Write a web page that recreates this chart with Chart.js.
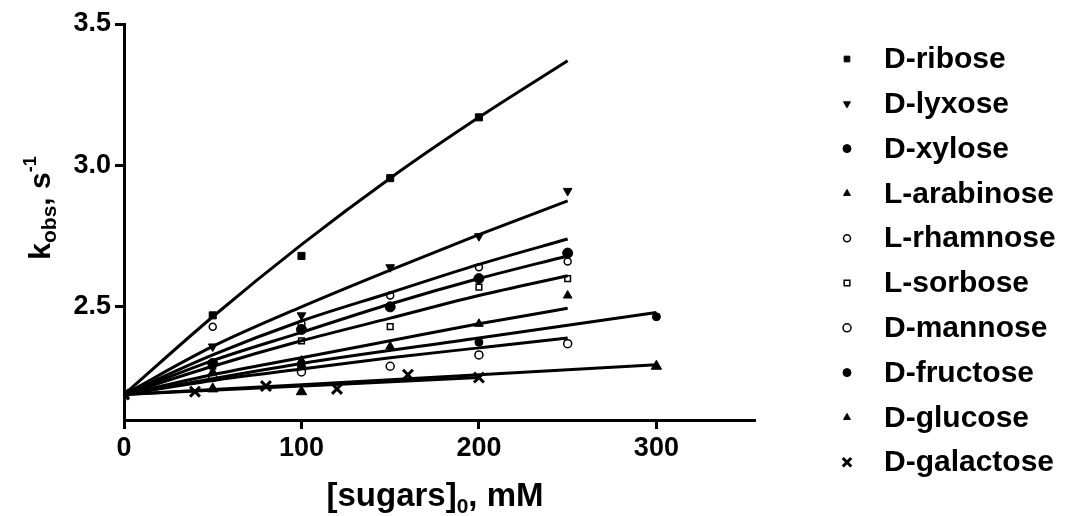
<!DOCTYPE html>
<html lang="en">
<head>
  <meta charset="UTF-8" />
  <title>kobs vs sugars</title>
  <script src="https://cdn.jsdelivr.net/npm/chart.js"></script>
  <style>
    body { margin: 0; background: #fff; }
    #wrap { width: 1069px; height: 516px; }
  </style>
</head>
<body>
  <div id="wrap"><canvas id="chart" width="1069" height="516"></canvas></div>

  <script>
    // tick labels
    const xTicks = [0, 100, 200, 300];
    const yTicks = [2.5, 3.0, 3.5];

    // measured points
    const sugars = ['D-ribose', 'D-lyxose', 'D-xylose', 'L-arabinose', 'L-rhamnose',
                    'L-sorbose', 'D-mannose', 'D-fructose', 'D-glucose', 'D-galactose'];
    const conc = [0, 50, 100, 150, 200, 250];

    const riboseX = [0, 50, 100, 150, 200];
    const riboseY = [2.19, 2.47, 2.68, 2.955, 3.17];
    const lyxoseY = [2.19, 2.36, 2.47, 2.64, 2.75, 2.91];
    const xyloseY = [2.19, 2.30, 2.42, 2.50, 2.60, 2.69];
    const arabinoseY = [2.19, 2.27, 2.31, 2.36, 2.44, 2.54];
    const rhamnoseY = [2.19, 2.43, 2.44, 2.54, 2.64, 2.66];
    const sorboseY = [2.19, 2.29, 2.38, 2.43, 2.57, 2.60];
    const mannoseY = [2.19, 2.25, 2.27, 2.29, 2.33, 2.37];
    const fructoseX = [0, 100, 200, 300];
    const fructoseY = [2.19, 2.29, 2.375, 2.465];
    const glucoseX = [0, 50, 100, 300];
    const glucoseY = [2.19, 2.21, 2.20, 2.29];
    const galactoseX = [0, 40, 80, 120, 160, 200];
    const galactoseY = [2.19, 2.20, 2.22, 2.21, 2.26, 2.25];

    // fitted curves
    const fitX = [0, 50, 100, 150, 200, 250];
    const riboseFit = [2.19, 2.465, 2.72, 2.955, 3.17, 3.37];
    const lyxoseFit = [2.19, 2.36, 2.50, 2.63, 2.755, 2.875];
    const xyloseFit = [2.19, 2.31, 2.41, 2.51, 2.60, 2.68];
    const rhamnoseFit = [2.19, 2.33, 2.45, 2.55, 2.65, 2.74];
    const sorboseFit = [2.19, 2.29, 2.38, 2.46, 2.54, 2.61];
    const arabinoseFit = [2.19, 2.26, 2.32, 2.38, 2.44, 2.495];
    const mannoseFit = [2.19, 2.24, 2.28, 2.32, 2.355, 2.39];
    const fitX300 = [0, 100, 200, 300];
    const fructoseFit = [2.19, 2.30, 2.39, 2.48];
    const glucoseFit = [2.19, 2.225, 2.26, 2.295];
    const galactoseFitX = [0, 100, 200];
    const galactoseFit = [2.19, 2.22, 2.25];

    const pts = (xs, ys) => xs.map((x, i) => ({ x: x, y: ys[i] }));

    const markers = [
      { style: 'rect', r: 5, fill: '#000', rot: 0, bw: 1 },
      { style: 'triangle', r: 5, fill: '#000', rot: 180, bw: 1 },
      { style: 'circle', r: 5, fill: '#000', rot: 0, bw: 1 },
      { style: 'triangle', r: 5, fill: '#000', rot: 0, bw: 1 },
      { style: 'circle', r: 3.5, fill: '#fff', rot: 0, bw: 1.5 },
      { style: 'rect', r: 4, fill: '#fff', rot: 0, bw: 1.5 },
      { style: 'circle', r: 4, fill: '#fff', rot: 0, bw: 1.5 },
      { style: 'circle', r: 4, fill: '#000', rot: 0, bw: 1 },
      { style: 'triangle', r: 6, fill: '#000', rot: 0, bw: 1 },
      { style: 'crossRot', r: 7, fill: '#000', rot: 0, bw: 3 }
    ];

    const pointData = [
      pts(riboseX, riboseY), pts(conc, lyxoseY), pts(conc, xyloseY), pts(conc, arabinoseY),
      pts(conc, rhamnoseY), pts(conc, sorboseY), pts(conc, mannoseY), pts(fructoseX, fructoseY),
      pts(glucoseX, glucoseY), pts(galactoseX, galactoseY)
    ];
    const fitData = [
      pts(fitX, riboseFit), pts(fitX, lyxoseFit), pts(fitX, xyloseFit), pts(fitX, arabinoseFit),
      pts(fitX, rhamnoseFit), pts(fitX, sorboseFit), pts(fitX, mannoseFit), pts(fitX300, fructoseFit),
      pts(fitX300, glucoseFit), pts(galactoseFitX, galactoseFit)
    ];

    const datasets = [];
    fitData.forEach((d, i) => {
      datasets.push({
        label: sugars[i] + ' fit',
        data: d,
        showLine: true,
        borderColor: '#000',
        borderWidth: 3,
        pointRadius: 0,
        cubicInterpolationMode: 'monotone',
        isFit: true
      });
    });
    pointData.forEach((d, i) => {
      const m = markers[i];
      datasets.push({
        label: sugars[i],
        data: d,
        showLine: false,
        pointStyle: m.style,
        pointRadius: m.r,
        pointRotation: m.rot,
        pointBackgroundColor: m.fill,
        pointBorderColor: '#000',
        pointBorderWidth: m.bw,
        marker: m
      });
    });

    const BOLD = 'bold {s}px "Liberation Sans", Arial, sans-serif';
    const font = s => BOLD.replace('{s}', s);

    // axis titles with sub/superscripts
    const titlePlugin = {
      id: 'titles',
      afterDraw(chart) {
        const ctx = chart.ctx;
        ctx.save();
        ctx.fillStyle = '#000';
        ctx.textBaseline = 'alphabetic';

        function drawRuns(runs, cx, cy) {
          let total = 0;
          runs.forEach(r => { ctx.font = font(r.size); r.w = ctx.measureText(r.t).width; total += r.w; });
          let x = cx - total / 2;
          runs.forEach(r => {
            ctx.font = font(r.size);
            ctx.fillText(r.t, x, cy + r.dy);
            x += r.w;
          });
        }

        // x title
        const a = chart.chartArea;
        drawRuns([
          { t: '[sugars]', size: 33, dy: 0 },
          { t: '0', size: 21, dy: 7 },
          { t: ', mM', size: 33, dy: 0 }
        ], (a.left + a.right) / 2 - 4, 506);

        // y title, rotated
        ctx.translate(50, 208);
        ctx.rotate(-Math.PI / 2);
        drawRuns([
          { t: 'k', size: 30, dy: 0 },
          { t: 'obs', size: 21, dy: 6 },
          { t: ', s', size: 30, dy: 0 },
          { t: '-1', size: 18, dy: -14 }
        ], 0, 0);
        ctx.restore();
      }
    };

    // legend on the right
    const legendPlugin = {
      id: 'sideLegend',
      afterDraw(chart) {
        const ctx = chart.ctx;
        ctx.save();
        const items = chart.data.datasets.filter(d => !d.isFit);
        items.forEach((d, i) => {
          const y = 59 + i * 44.8;
          const m = d.marker;
          ctx.fillStyle = m.fill;
          ctx.strokeStyle = '#000';
          ctx.lineWidth = m.bw;
          Chart.helpers.drawPoint(ctx, {
            pointStyle: m.style,
            rotation: m.rot,
            radius: m.style === 'crossRot' ? 6 : Math.min(m.r, 4),
            borderWidth: m.bw
          }, 847, y);
          ctx.fillStyle = '#000';
          ctx.font = font(30);
          ctx.textBaseline = 'middle';
          ctx.fillText(d.label, 884, y + 1);
        });
        ctx.restore();
      }
    };

    new Chart(document.getElementById('chart'), {
      type: 'scatter',
      data: { datasets: datasets },
      options: {
        responsive: false,
        animation: false,
        layout: { padding: { top: 24, right: 315, left: 0, bottom: 0 } },
        plugins: {
          legend: { display: false },
          tooltip: { enabled: false }
        },
        scales: {
          x: {
            type: 'linear',
            min: 0,
            max: 355,
            afterBuildTicks: s => { s.ticks = xTicks.map(v => ({ value: v })); },
            afterFit: s => { s.height = 96; s.paddingLeft = 0; s.paddingRight = 0; },
            border: { color: '#000', width: 3 },
            grid: { drawOnChartArea: false, drawTicks: true, tickLength: 9, color: '#000', lineWidth: 3 },
            ticks: { color: '#000', font: { size: 27, weight: 'bold', family: '"Liberation Sans", Arial, sans-serif' }, padding: 3, maxRotation: 0 }
          },
          y: {
            type: 'linear',
            min: 2.1,
            max: 3.5,
            afterBuildTicks: s => { s.ticks = yTicks.map(v => ({ value: v })); },
            afterFit: s => { s.width = 124; s.paddingTop = 0; s.paddingBottom = 0; },
            border: { color: '#000', width: 3 },
            grid: { drawOnChartArea: false, drawTicks: true, tickLength: 9, color: '#000', lineWidth: 3 },
            ticks: {
              color: '#000',
              font: { size: 27, weight: 'bold', family: '"Liberation Sans", Arial, sans-serif' },
              padding: 4,
              callback: v => Number(v).toFixed(1)
            }
          }
        }
      },
      plugins: [titlePlugin, legendPlugin]
    });
  </script>
</body>
</html>
